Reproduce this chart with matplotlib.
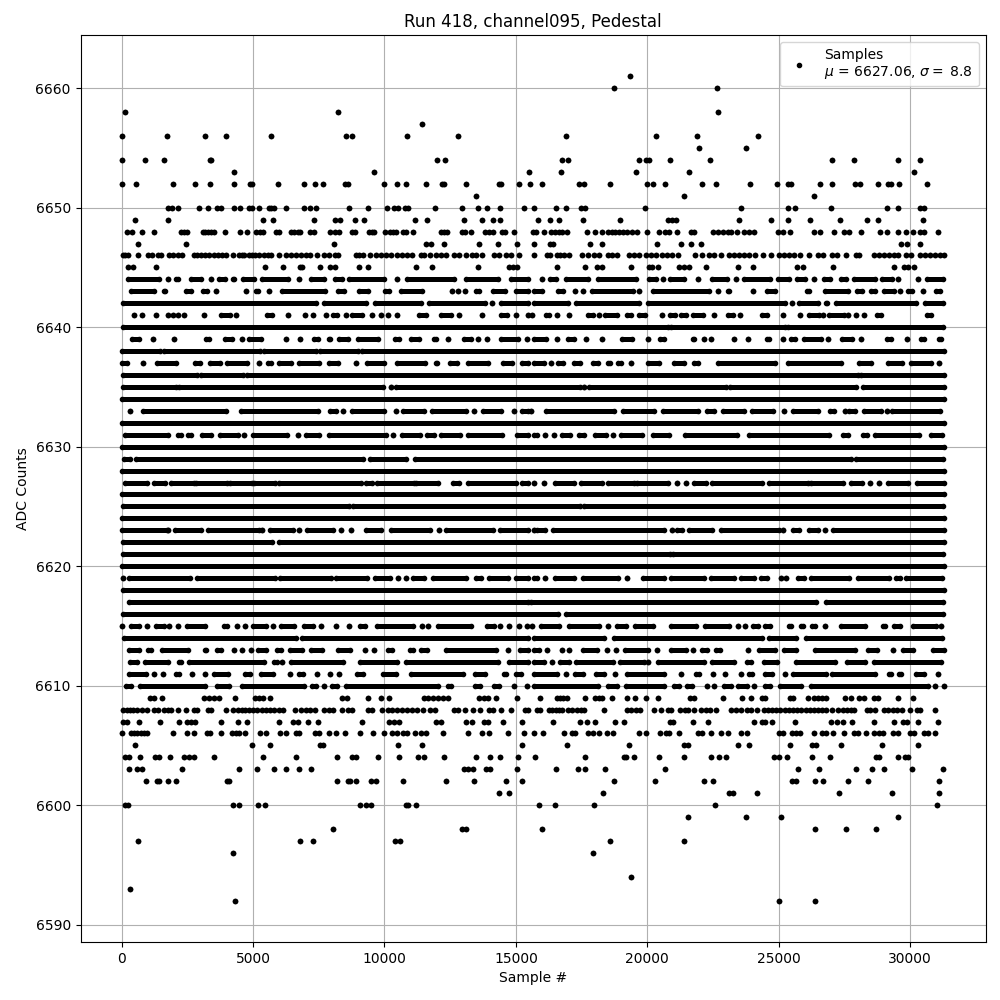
import numpy as np
import matplotlib
matplotlib.use('Agg')
import matplotlib.pyplot as plt

# sample numbers, one list per ADC level
# a plain number is a single dot, a tuple is a run of dots too dense to tell apart
row_6661 = [19340]
row_6660 = [18730, 22650]
row_6658 = [140, 8230, 22690]
row_6657 = [11435]
row_6656 = [25, 1740, 3155, 3955, 5670, 8535, 8765, 10860, 12810, 16900, 20330, 21890, 24220]
row_6655 = [21970, 23760]
row_6654 = [25, 900, 1630, 3345, 3395, 12010, 12290, 16750, 16980, 19680, 19960, 20080, 20860, 22390, 27040, 27870, 29525, 30390]
row_6653 = [4260, 9600, 15480, 16710, 19570, 21590, 30160]
row_6652 = [25, 560, 1970, 2810, 3345, 4260, 4870, 4975, 5940, 6930, 7350, 7660, 8500, 8610, 9985, 10480, 10825, 11590, 12200, 12250, 13115, 14375, 14440, 15100, 15520,
            15990, 17400, 17590, 18580, 19990, 20220, 20670, 22080, 22620, 23910, 24940, 25350, 25460, 26580, 27040, 27910, 28100, 28790, 29170, 29270, 29590, 30650]
row_6651 = [13500, 21400, 26350]
row_6650 = [1780, 1935, 2135, 2925, 3270, 3610, 3765, 4260, 4490, 4860, 4950, 5215, 5600, 5685, 5790, 6245, 6930, 7160, 7390, 8650, 9375, 10100, 10370, 10520, 10775, 10900, 11930, 12960, 13570, 13915, 14410, 15290,
            15670, 16530, 16900, 17460, 17630, 19910, 23560, 25360, 25630, 27000, 29130, 29550, 30380, 30540]
row_6649 = [520, 1780, 5370, 5750, 7310, 8115, 8305, 8880, 9220, 11170, 11625, 13040, 13725, 14145, 14410,
            15830, 16290, 16630, 17550, 18960, 20790, 20940, 21090, 23490, 24710, 25360, 26200, 27340, 28370, 28790, 30500]
row_6648 = [215, 405, 790, 1245, 2275, 2380, 2480, 3080, 3180, 3280, 3385, 3510, 3920, 4490, 4755, 5100, 5250, 5380, 5890, 5990, 6435, 6550, 6705, 6780, 7185, 7310, 7925, 8100, 8255, 8765, 8880, 9410, 9540, 9600, 10025, 10215, 10340, 10430, 10700, 10810, 11090, 12150, 12275, 12375, 12950, 13060, 13290, 13830, 13970, 14120, 14460, 14590, 14910,
            15655, 15780, 16060, 16340, 16470, 16630, 16760, 16950, 17710, 18005, 18270, 18500, 18640, 18770, 18920, 19085, 19240, 19430, 19620, 20000, 20445, 20670, 20825, 21120, 21650, 21780, 22515, 22670, 22860, 23050, 23175, 23430, 23660, 23875, 24065, 24955, 25145, 25440, 26350, 26580, 27090, 27470, 27685, 28140, 28865, 29120, 29525, 29845, 30100, 30355, 30540, 31075]
row_6647 = [635, 2430, 8075, 11590, 11780, 12275, 13610, 14335, 15060, 15680, 16290, 16420, 17815, 18270, 20370, 21280, 21665, 22045, 29665, 29895, 30390]
row_6646 = [40, 140, 255, 635, 1020, 1145, 1400, 1490, 1820, 1970, 2160, 2290, 2735, 2885, 3015, 3180, 3305, 3500, 3650, 3815, 3980, 4225, 4450, 4580, 4670, 4835, 4960, 5090, 5240, 5430, 5560, 5685, 5980, 6235, 6425, 6615, 6805, 7000, 7185, 7415, 7695, 7885, 8100, 8230, 8905, 9030, 9195, 9450, 9665, 9860, 10050, 10240, 10495, 10685, 10875, 11065, 11385, 11485, 11730, 11955, 12150, 12340, 12655, 12845, 13100, 13320, 13485, 13710, 14185, 14375, 14630, 14820, 15135,
            15680, 16190, 16315, 16570, 16695, 16825, 17015, 17525, 17740, 17970, 18160, 18500, 18660, 18830, 19300, 19490, 19680, 19935, 20125, 20320, 20570, 20760, 20955, 21180, 21815, 22080, 22350, 22540, 22820, 23115, 23305, 23495, 23685, 23875, 24090, 24385, 24700, 25015, 25210, 25400, 25590, 25815, 26160, 26480, 26670, 27040, 27225, 27545, 27925, 28055, 28635, 28825, 29015, 29205, 29400, 29525, 29845, 30035, 30355, 30545, 30735, 30950, 31115, 31300]
row_6645 = [255, 420, 1295, 5445, 6130, 6780, 6870, 7545, 7925, 8115, 9030, 9375, 11205, 11815, 13545, 14755, 14880, 15050,
            16560, 17625, 18095, 18285, 19380, 20065, 20190, 20405, 21205, 21400, 21590, 22250, 23455, 24025, 25690, 25905, 27075, 29400, 29755, 29910, 30135]
row_6644 = [(240, 1410), 1745, (2050, 2135), (2620, 3030), 3385, (3690, 3920), (4225, 4275), (4630, 5035), (5355, 6345), 6740, (7200, 7710), (8100, 8370), (8650, 9970), 10480, (10860, 12640), (13090, 14300), (14805, 15470),
            16000, (16280, 16520), (16900, 17725), (18105, 19570), (20050, 20330), 20600, (20875, 21385), 21945, (22465, 23025), 23355, (23670, 24685), (24965, 25385), (25700, 26005), 26325, (26720, 26935), (27355, 27570), (27860, 28650), (28940, 29310), 29550, 30310, (30655, 31250)]
row_6643 = [(370, 1220), (1600, 1665), (2430, 2645), (3105, 3255), 3585, 4745, (5115, 5190), 5620, (6095, 7735), (8215, 8445), (9020, 9360), (10035, 10190), (10635, 11420), 12555, 12810, 13075, (13470, 13585), (14145, 14600), (15000, 15470),
            (15680, 15975), (16620, 16775), 17255, 17550, (17890, 19440), 19680, (20205, 22360), 22690, (23060, 23125), 24025, (24535, 24865), (26060, 26135), (26755, 27635), (27990, 28165), (28520, 28650), (29005, 29385), 29615, (29920, 30070), 30480, (30975, 31125)]
row_6642 = [(50, 7390), (7685, 9300), (9655, 11400), (11690, 13815), 14080, (14425, 15470), (15670, 16965), (17295, 19695), (20015, 25220), 25510, (25765, 26490), (26780, 26845), (27165, 30235), (30555, 31250)]
row_6641 = [470, 790, 1325, 1780, 1970, 2160, 2380, 3115, (3765, 4135), 4365, (5535, 5735), 6320, 6960, 7275, 7770, (8050, 8205), 8550, (8775, 9160), 9525, 9870, 10140, 10480, (11320, 11575), (12150, 12530), 12850, 13725, (14435, 14655), 15020, 15455,
            15620, (16130, 16255), 16570, 17030, (17740, 17945), 18160, (18375, 18830), (19240, 19365), (19680, 19910), 20545, (20860, 21040), (21270, 21460), (21750, 22135), 22540, (23050, 23240), 23530, (24380, 24545), 25170, 25815, (26160, 26540), 26670, (26895, 27495), 27620, 27940, 28230, (28740, 28890), (30640, 30795)]
row_6640 = [(50, 20800), (20900, 25250), (25370, 31250)]
row_6639 = [(405, 650), 1210, 1985, (3195, 3320), (3930, 4210), 4565, (4860, 5315), 6260, 6780, (7325, 7480), (7900, 7935), (8255, 8600), (8980, 9745), (10415, 10570), (10990, 11295), (11880, 11970), 12430, (13025, 13305), 13570, 13890, (14425, 15085), 15440,
            (15670, 16140), 16570, (16965, 17220), 17665, 18285, (19035, 19405), 20025, (20495, 20650), (21725, 21790), 22160, 22425, 23315, 23825, (24560, 24610), 25145, (25475, 25600), (25955, 26615), 26860, (27415, 27785), 28115, (29130, 29285), 29870, (30425, 30530), (31100, 31190)]
row_6638 = [(0, 1460), (1600, 5260), (5410, 7400), (7560, 9000), (9150, 31300)]
row_6637 = [(25, 205), 825, (1350, 2050), (2810, 2975), (3360, 3740), (3995, 4785), 5215, (5585, 5675), (5990, 6435), (6730, 7520), (7875, 8215), 8930, (9335, 9995), (10480, 11525), (11945, 12010), (12490, 12770), (13180, 13940), (14490, 14855), (15215, 15470),
            (15670, 16075), 16340, (16620, 16775), (17195, 17450), (17930, 18135), (18490, 18590), (18870, 19000), 19390, (20015, 20455), (21030, 21410), (21765, 21920), (22680, 24840), (25345, 27355), (28050, 28520), (29155, 29690), (30045, 30810), 31100]
row_6636 = [(50, 2870), (3030, 4600), (4760, 28000), (28130, 31300)]
row_6635 = [(50, 2050), (2190, 9950), 10230, (10420, 17450), 17600, (17790, 23000), (23130, 27950), (28200, 31300)]
row_6634 = [(0, 31300)]
row_6633 = [330, (815, 3970), (4530, 7455), (7910, 8155), 8420, (8765, 10000), 10420, (10710, 11500), (11815, 13115), 13420, (13750, 14450), 14910, (15250, 15470),
            15565, (16150, 18720), (19060, 20265), (20600, 21945), (22275, 22530), (22885, 23670), (23990, 24775), 25205, (25550, 26490), (26945, 27085), 27510, (27670, 27890), (28240, 28905), 29105, (29320, 31125)]
row_6632 = [(0, 31300)]
row_6631 = [(140, 1770), (2150, 2240), (2530, 2645), (3040, 3385), (3740, 4425), 4670, (4985, 6285), 6705, (7000, 7490), (7875, 10060), 10330, (10670, 11335), (11625, 11880), (12160, 12860), (13180, 14475), (15060, 15470),
            (15670, 15820), 16125, 16445, (16750, 17040), (17385, 17575), (17995, 18425), 18705, (19010, 19785), (20215, 20840), (21420, 23415), (23860, 26910), (27455, 27635), (28215, 28370), (28650, 30325), (30780, 31215)]
row_6630 = [(0, 31300)]
row_6629 = [(75, 305), (560, 9170), (9465, 10825), (11155, 27760), (27940, 31240)]
row_6628 = [(0, 31300)]
row_6627 = [(115, 955), (1220, 1655), (1895, 2735), (2835, 4005), (4135, 4960), (5025, 5850), (5980, 9095), (9300, 9540), (9730, 11105), (11195, 12045), (12620, 12835), (13165, 15010), (15225, 15470),
            15680, 16065, (16470, 17195), (17460, 18260), (18510, 19490), (19620, 20800), 21120, 21460, (21780, 22220), (22475, 24380), (24620, 26095), (26225, 27430), (27750, 28165), 28480, 28825, (29145, 29930), (30260, 31300)]
row_6626 = [(0, 31300)]
row_6625 = [(50, 8640), (8800, 17420), (17600, 31250)]
row_6624 = [(0, 31300)]
row_6623 = [(15, 1715), 1770, (2035, 3015), (3295, 5215), 5340, (5660, 6525), 6740, (7060, 8050), 8330, 8715, (9285, 9860), (10240, 11740), 12085, (12340, 14120), (14410, 15470),
            15680, (15785, 16115), (16410, 20635), 20950, (21140, 21335), (21590, 22475), (22820, 25015), 25180, (25525, 25780), (26160, 26475), 26770, (27050, 31300)]
row_6622 = [(50, 5720), (5980, 31300)]
row_6621 = [(50, 20860), (20995, 31250)]
row_6620 = [(0, 31300)]
row_6619 = [40, (280, 2610), (2850, 5850), (6040, 7950), (8140, 9325), (9630, 10215), 10520, 10825, (11080, 11510), (11830, 13100), (13480, 13670), (13965, 14690), (15000, 15470),
            (15680, 15810), 16125, (16470, 17205), (17560, 18880), 19240, (19820, 20635), (20890, 22160), (22410, 23300), (23555, 24040), (24320, 24570), 25075, 25270, (25715, 25970), (26225, 27685), (28000, 29210), (29460, 29625), (29840, 31200)]
row_6618 = [(40, 31300)]
row_6617 = [(280, 15470), (15560, 26425), (26780, 31250)]
row_6616 = [(40, 16585), (16900, 31250)]
row_6615 = [25, (370, 660), 955, (1295, 1600), 1820, 2160, (2470, 3155), (3905, 4020), 4375, 4680, (5010, 5480), 5750, (6065, 6565), (6920, 7265), 7590, 8155, 8640, (9055, 9260), (9720, 11080), 11410, 11640, (12045, 13305), (13915, 14170), 14410, 14730, 15110, 15440,
            15595, (15950, 16645), (17005, 18170), 18510, (18845, 19185), (19520, 20205), (20900, 21855), (22210, 23125), 23455, 23720, (24015, 24205), (24495, 24650), (25385, 25475), (25830, 25920), (26275, 26390), 26770, (27380, 28295), (28980, 29030), (29385, 29600), (30120, 31000), 31175]
row_6614 = [(75, 6640), (6870, 15470), (15670, 18360), (18720, 24380), (24620, 25665), (26020, 31200)]
row_6613 = [(280, 650), (1005, 1120), (1540, 2520), (3170, 3220), (3615, 3765), 4260, 4590, 4910, (5200, 5480), (5900, 6055), (6410, 6855), (7210, 7605), (8230, 8690), 9245, 9615, (10125, 10280), (10965, 11080), (11395, 11615), (12350, 14260), 14680, (15160, 15470),
            (15670, 15885), 16190, 16760, 17015, (17535, 18070), 18475, 18805, (19135, 20015), 20370, (20900, 21475), 21740, (22085, 22275), (22630, 22770), 23835, (24240, 24865), (25195, 25665), (26365, 27885), (28405, 28750), 29335, (29740, 30110), (30885, 31300)]
row_6612 = [(305, 585), (905, 1770), (2190, 2265), (2570, 5420), (5815, 5900), 6110, (6450, 8405), (9075, 10480), (10800, 14320), (14745, 15470),
            (15670, 16050), 16380, (16660, 17030), (17295, 18680), (18945, 19885), 20025, (20395, 22170), (22465, 23290), (23800, 23925), (24430, 24930), (25665, 27125), (27605, 28295), (28620, 31190)]
row_6611 = [(280, 940), 1245, 1590, (2085, 2175), 2670, 3180, (3525, 4060), (4695, 4885), (5305, 5760), 6400, (6765, 6905), 7430, 7925, (8255, 8280), (8955, 9195), (9945, 10430), (10990, 12985), (13445, 13815), (14550, 14640), (15000, 15175),
            (15670, 16560), 16890, (17230, 17535), (18045, 18335), 18770, (19225, 20650), 21285, (21855, 21980), 22500, 22970, 23580, (23850, 24000), (24495, 24735), 25245, (25550, 26805), (27010, 28675), (29210, 29260), (29575, 29665), (30235, 30530), 31075]
row_6610 = [(180, 355), (710, 3190), (3610, 4085), (4565, 6945), (7235, 7390), 7695, (8000, 8190), (8535, 12035), (12430, 12515), (13430, 13625), (14170, 14350), 14930, 15440,
            (15670, 18135), (18490, 18845), (19200, 20650), (21000, 21220), (21525, 21700), 22260, 22540, (22910, 23190), (23440, 23785), 24040, (24495, 24685), (25065, 25855), (26210, 30680), 30950, 31300]
row_6609 = [1070, 1220, 1550, 3115, 3310, 3500, 3690, 4300, 5090, 5240, 5380, 5635, 8395, 8585, 9375, 9870, 10175, 11510, 11640, 11840, 12045, 12235, 12430, 13585, 13775, 13950, 14260, 15060,
            15910, 16545, 16670, 16800, 16925, 17625, 17990, 18145, 18270, 18650, 19240, 19520, 19960, 20405, 21625, 21780, 22880, 23605, 23950, 24345, 24495, 25435, 25550, 26120, 26325, 26475, 26630, 26780, 27530, 27760, 28065, 28255, 28610, 28760, 29550, 30095]
row_6608 = [65, 190, 320, 445, 570, 765, 980, 1245, 1400, 1630, 1745, 1880, 2160, 2455, 2735, 2885, 3270, 3395, 3980, 4225, 4415, 4580, 4705, 4835, 5000, 5150, 5340, 5510, 5660, 5815, 5980, 6145, 6590, 6830, 7000, 7150, 7350, 7695, 7885, 8050, 8395, 8610, 8775, 9375, 9540, 9920, 10140, 10300, 10495, 10685, 10875, 11065, 11255, 11450, 11740, 11920, 12655, 12810, 13075, 13380, 13650, 13965, 14120, 14435, 14820, 15330, 15455,
            15810, 15935, 16255, 16380, 16510, 16635, 16760, 16980, 17145, 17310, 17460, 17590, 18335, 19240, 19390, 19555, 19720, 20255, 20520, 20785, 20890, 21245, 21420, 21550, 21780, 22055, 22220, 22390, 22615, 23175, 23365, 23580, 23785, 23960, 24190,
            24445, 24600, 24750, 24900, 25060, 25220, 25380, 25540, 25700, 25860, 26020, 26180, 26340, 26500, 26660, 26790, 27040, 27265, 27430, 27600, 27750, 27875, 28355, 28485, 28660, 29015, 29170, 29335, 29500, 29680, 30010, 30260, 30365, 30960]
row_6607 = [65, 190, 675, 1475, 2200, 2480, 2645, 2800, 3765, 4415, 4755, 5980, 6510, 6705, 7085, 7465, 9145, 10175, 10370, 10560, 11955, 12150, 13115, 13345, 13800, 13955, 14525, 15250,
            16405, 17435, 17700, 18005, 18770, 19110, 20865, 20965, 21740, 22310, 24065, 24370, 24470, 24750, 25625, 27000, 27225, 27455, 27800, 28635, 29400, 29715, 29880, 30310, 31075]
row_6606 = [25, 345, 470, 600, 725, 850, 980, 1970, 2505, 2735, 3245, 3370, 3765, 4200, 4365, 4450, 4680, 5250, 5480, 6015, 6245, 6625, 6755, 7340, 7505, 7885, 8140, 8495, 9070, 9565, 9985, 10300, 10470, 10710, 10875, 11170, 11385, 11575, 12235, 13190, 13725, 13990, 14680, 15290,
            15680, 16025, 16825, 17120, 17245, 17740, 17930, 18160, 18465, 18695, 19680, 19960, 20485, 20710, 20825, 21205, 21930, 22095, 22425, 22805, 23075, 23570, 23800, 25015, 25145, 25510, 25665, 25815, 26350, 26630, 26795, 27075, 27495, 27855, 28000, 28330, 28635, 28825, 28980, 29335, 29525, 30010, 30135, 30540, 30695, 30945]
row_6605 = [520, 4945, 5635, 7545, 7670, 10520, 11435, 15215, 16940, 19300, 21400, 21550, 23455, 23875, 25435, 26275, 26400, 27370, 28940, 30310]
row_6604 = [140, 290, 710, 1285, 1440, 1855, 2390, 2545, 2735, 3500, 5370, 6625, 8190, 8765, 8905, 9755, 10545, 11285, 11510, 12275, 13495, 14030, 14410, 15075,
            15720, 17625, 19110, 19185, 19490, 20445, 21400, 22425, 22730, 23000, 24825, 25015, 25295, 26275, 26960, 28710, 28825, 29550, 29815, 29930]
row_6603 = [290, 570, 765, 2315, 4450, 5140, 5790, 6245, 6740, 7200, 13040, 13190, 13370, 13865, 14030, 15060, 16520, 17360, 17625, 18385, 20670, 25740, 26540, 27950, 28560, 29015, 30085, 31265]
row_6602 = [915, 1360, 1440, 1745, 2050, 4005, 4085, 8190, 8610, 8690, 8915, 9490, 9680, 10710, 12350, 13420, 14640, 15250, 18730, 20290, 22160, 22500, 25510, 25650, 26390, 26670, 27645, 28405, 31110]
row_6601 = [14375, 14755, 18310, 23110, 23240, 24180, 27300, 29320, 31110]
row_6600 = [125, 230, 4225, 4450, 5190, 5445, 9070, 9300, 9475, 10810, 10900, 11205, 15870, 16480, 17970, 22580, 31035]
row_6599 = [21550, 23760, 25090, 29525]
row_6598 = [8040, 12960, 13090, 15985, 26390, 27570, 28710]
row_6597 = [635, 6780, 7275, 10405, 10595, 18580, 21400]
row_6596 = [4225, 17930]
row_6594 = [19380]
row_6593 = [330]
row_6592 = [4300, 25015, 26390]

levels = [6661, 6660, 6658, 6657, 6656, 6655, 6654, 6653, 6652, 6651, 6650, 6649, 6648, 6647, 6646, 6645,
          6644, 6643, 6642, 6641, 6640, 6639, 6638, 6637, 6636, 6635, 6634, 6633, 6632, 6631, 6630, 6629, 6628, 6627,
          6626, 6625, 6624, 6623, 6622, 6621, 6620, 6619, 6618, 6617, 6616, 6615, 6614, 6613, 6612, 6611, 6610,
          6609, 6608, 6607, 6606, 6605, 6604, 6603, 6602, 6601, 6600, 6599, 6598, 6597, 6596, 6594, 6593, 6592]
rows = [row_6661, row_6660, row_6658, row_6657, row_6656, row_6655, row_6654, row_6653, row_6652, row_6651, row_6650, row_6649, row_6648, row_6647, row_6646, row_6645,
        row_6644, row_6643, row_6642, row_6641, row_6640, row_6639, row_6638, row_6637, row_6636, row_6635, row_6634, row_6633, row_6632, row_6631, row_6630, row_6629, row_6628, row_6627,
        row_6626, row_6625, row_6624, row_6623, row_6622, row_6621, row_6620, row_6619, row_6618, row_6617, row_6616, row_6615, row_6614, row_6613, row_6612, row_6611, row_6610,
        row_6609, row_6608, row_6607, row_6606, row_6605, row_6604, row_6603, row_6602, row_6601, row_6600, row_6599, row_6598, row_6597, row_6596, row_6594, row_6593, row_6592]

dot_x, dot_y = [], []
run_y, run_start, run_end = [], [], []
for level, row in zip(levels, rows):
    for item in row:
        item = np.atleast_1d(item)
        dot_x += [item[0], item[-1]]
        dot_y += [level, level]
        if len(item) == 2:
            run_y.append(level)
            run_start.append(item[0])
            run_end.append(item[1])

fig, ax = plt.subplots(figsize=(10, 10))
ax.plot(dot_x, dot_y, 'k.', label='Samples\n$\\mu$ = 6627.06, $\\sigma = $ 8.8')
ax.hlines(run_y, run_start, run_end, colors='k', linewidth=3.6, zorder=2)
ax.set_title('Run 418, channel095, Pedestal')
ax.set_xlabel('Sample #')
ax.set_ylabel('ADC Counts')
ax.grid()
ax.legend(loc='upper right')
fig.subplots_adjust(left=0.0805, right=0.9855, top=0.965, bottom=0.058)
fig.savefig('out.png', dpi=100)
